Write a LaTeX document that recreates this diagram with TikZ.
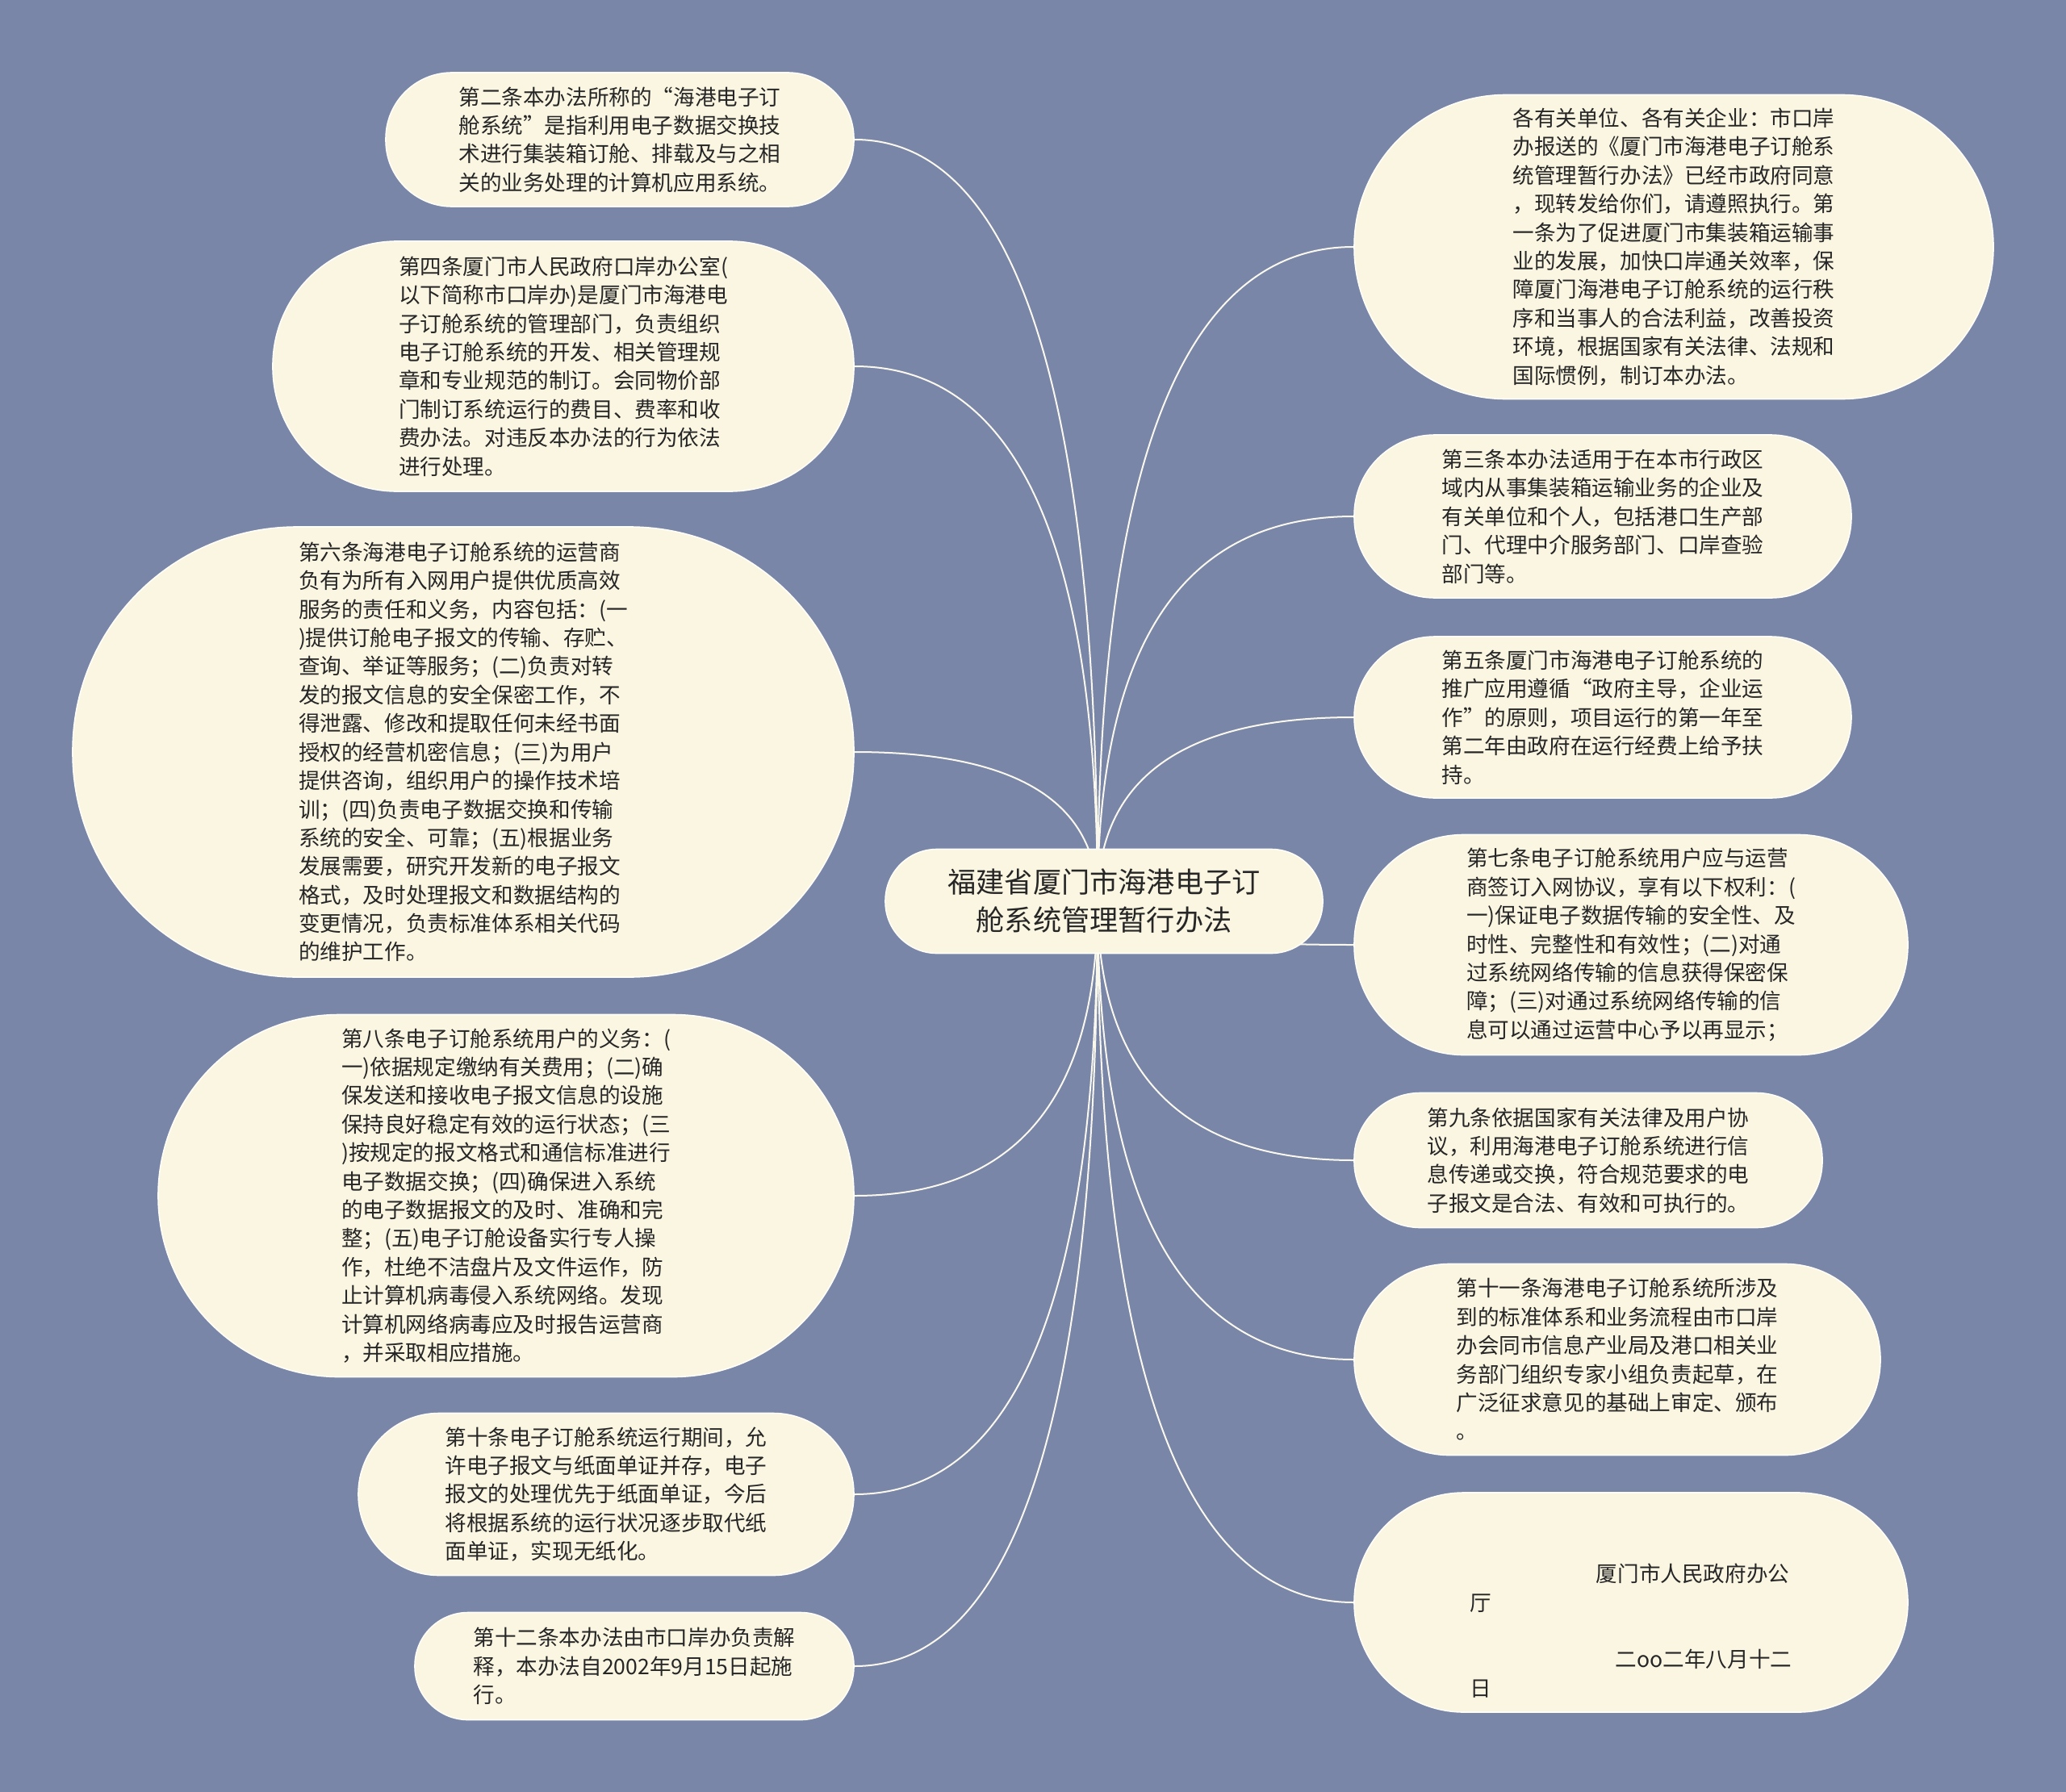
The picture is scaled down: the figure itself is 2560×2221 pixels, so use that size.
\documentclass[tikz,border=0pt]{standalone}
\usepackage{fontspec}
\usetikzlibrary{calc}
\setmainfont{Noto Sans CJK SC}
\definecolor{bgc}{RGB}{121,134,167}
\definecolor{boxfill}{RGB}{250,246,226}
\definecolor{rim}{RGB}{255,255,248}
\definecolor{linec}{RGB}{250,248,236}
\definecolor{ink}{RGB}{38,38,38}
\pgfdeclarelayer{bg}
\pgfsetlayers{bg,main}
\tikzset{
  leaf/.style={draw=rim, line width=0.8pt, fill=boxfill, text=ink, align=left, inner sep=0pt,
    font=\fontsize{13.3pt}{17.7pt}\selectfont},
  hubbox/.style={draw=rim, line width=0.8pt, fill=boxfill, text=ink, align=center, inner sep=0pt,
    font=\fontsize{17.6pt}{23.5pt}\selectfont},
  link/.style={draw=linec, line width=1pt},
}
\newcommand{\blankln}{\rule{0pt}{11pt}}
\newcommand{\qlink}[2]{%
  \draw[link] (hub) .. controls ($(hub)!0.667!(hub |- #1.#2)$) and ($(#1.#2)!0.667!(hub |- #1.#2)$) .. (#1.#2);}
\begin{document}
\begin{tikzpicture}[x=0.5pt,y=-0.5pt]
\begin{pgfonlayer}{bg}
\fill[bgc] (0,0) rectangle (2560,2221);
\end{pgfonlayer}
\useasboundingbox (0,0) rectangle (2560,2221);

% central node
\node[hubbox, minimum width=271pt, minimum height=64.5pt, rounded corners=32pt] (ctr) at (1368,1117) {福建省厦门市海港电子订\\舱系统管理暂行办法};
\coordinate (hub) at ([xshift=-4pt]ctr.center);

% left nodes
\node[leaf, minimum width=290pt, minimum height=83pt, rounded corners=41pt] (b2) at (768,173) {第二条本办法所称的“海港电子订\\舱系统”是指利用电子数据交换技\\术进行集装箱订舱、排载及与之相\\关的业务处理的计算机应用系统。};

\node[leaf, minimum width=360pt, minimum height=155pt, rounded corners=77pt] (b4) at (698,454) {第四条厦门市人民政府口岸办公室(\\以下简称市口岸办)是厦门市海港电\\子订舱系统的管理部门，负责组织\\电子订舱系统的开发、相关管理规\\章和专业规范的制订。会同物价部\\门制订系统运行的费目、费率和收\\费办法。对违反本办法的行为依法\\进行处理。};

\node[leaf, minimum width=484pt, minimum height=279pt, rounded corners=139pt] (b6) at (574,932) {第六条海港电子订舱系统的运营商\\负有为所有入网用户提供优质高效\\服务的责任和义务，内容包括：(一\\)提供订舱电子报文的传输、存贮、\\查询、举证等服务；(二)负责对转\\发的报文信息的安全保密工作，不\\得泄露、修改和提取任何未经书面\\授权的经营机密信息；(三)为用户\\提供咨询，组织用户的操作技术培\\训；(四)负责电子数据交换和传输\\系统的安全、可靠；(五)根据业务\\发展需要，研究开发新的电子报文\\格式，及时处理报文和数据结构的\\变更情况，负责标准体系相关代码\\的维护工作。};

\node[leaf, minimum width=431pt, minimum height=224.5pt, rounded corners=112pt] (b8) at (627,1482) {第八条电子订舱系统用户的义务：(\\一)依据规定缴纳有关费用；(二)确\\保发送和接收电子报文信息的设施\\保持良好稳定有效的运行状态；(三\\)按规定的报文格式和通信标准进行\\电子数据交换；(四)确保进入系统\\的电子数据报文的及时、准确和完\\整；(五)电子订舱设备实行专人操\\作，杜绝不洁盘片及文件运作，防\\止计算机病毒侵入系统网络。发现\\计算机网络病毒应及时报告运营商\\，并采取相应措施。};

\node[leaf, minimum width=307pt, minimum height=100.5pt, rounded corners=50pt] (b10) at (751,1852) {第十条电子订舱系统运行期间，允\\许电子报文与纸面单证并存，电子\\报文的处理优先于纸面单证，今后\\将根据系统的运行状况逐步取代纸\\面单证，实现无纸化。};

\node[leaf, minimum width=272pt, minimum height=66.5pt, rounded corners=33pt] (b12) at (786,2065) {第十二条本办法由市口岸办负责解\\释，本办法自2002年9月15日起施\\行。};

% right nodes
\node[leaf, minimum width=396pt, minimum height=188.5pt, rounded corners=94pt] (r1) at (2074,306) {各有关单位、各有关企业：市口岸\\办报送的《厦门市海港电子订舱系\\统管理暂行办法》已经市政府同意\\，现转发给你们，请遵照执行。第\\一条为了促进厦门市集装箱运输事\\业的发展，加快口岸通关效率，保\\障厦门海港电子订舱系统的运行秩\\序和当事人的合法利益，改善投资\\环境，根据国家有关法律、法规和\\国际惯例，制订本办法。};

\node[leaf, minimum width=308pt, minimum height=101pt, rounded corners=50pt] (r3) at (1986,640) {第三条本办法适用于在本市行政区\\域内从事集装箱运输业务的企业及\\有关单位和个人，包括港口生产部\\门、代理中介服务部门、口岸查验\\部门等。};

\node[leaf, minimum width=308pt, minimum height=100pt, rounded corners=50pt] (r5) at (1986,889) {第五条厦门市海港电子订舱系统的\\推广应用遵循“政府主导，企业运\\作”的原则，项目运行的第一年至\\第二年由政府在运行经费上给予扶\\持。};

\node[leaf, minimum width=343pt, minimum height=136.5pt, rounded corners=68pt] (r7) at (2021,1171) {第七条电子订舱系统用户应与运营\\商签订入网协议，享有以下权利：(\\一)保证电子数据传输的安全性、及\\时性、完整性和有效性；(二)对通\\过系统网络传输的信息获得保密保\\障；(三)对通过系统网络传输的信\\息可以通过运营中心予以再显示；};

\node[leaf, minimum width=290pt, minimum height=83.5pt, rounded corners=41pt] (r9) at (1968,1438) {第九条依据国家有关法律及用户协\\议，利用海港电子订舱系统进行信\\息传递或交换，符合规范要求的电\\子报文是合法、有效和可执行的。};

\node[leaf, minimum width=326pt, minimum height=118.5pt, rounded corners=59pt] (r11) at (2004,1685) {第十一条海港电子订舱系统所涉及\\到的标准体系和业务流程由市口岸\\办会同市信息产业局及港口相关业\\务部门组织专家小组负责起草，在\\广泛征求意见的基础上审定、颁布\\。};

\node[leaf, minimum width=343pt, minimum height=136pt, rounded corners=68pt] (r13) at (2021,1986) {\blankln\\\blankln\\\hspace*{78pt}厦门市人民政府办公\\厅\\\blankln\\\hspace*{90pt}二oo二年八月十二\\日};

% connectors
\begin{pgfonlayer}{bg}
\foreach \n in {b2,b4,b6,b8,b10,b12} {\qlink{\n}{east}}
\foreach \n in {r1,r3,r5,r7,r9,r11,r13} {\qlink{\n}{west}}
\end{pgfonlayer}
\end{tikzpicture}
\end{document}
